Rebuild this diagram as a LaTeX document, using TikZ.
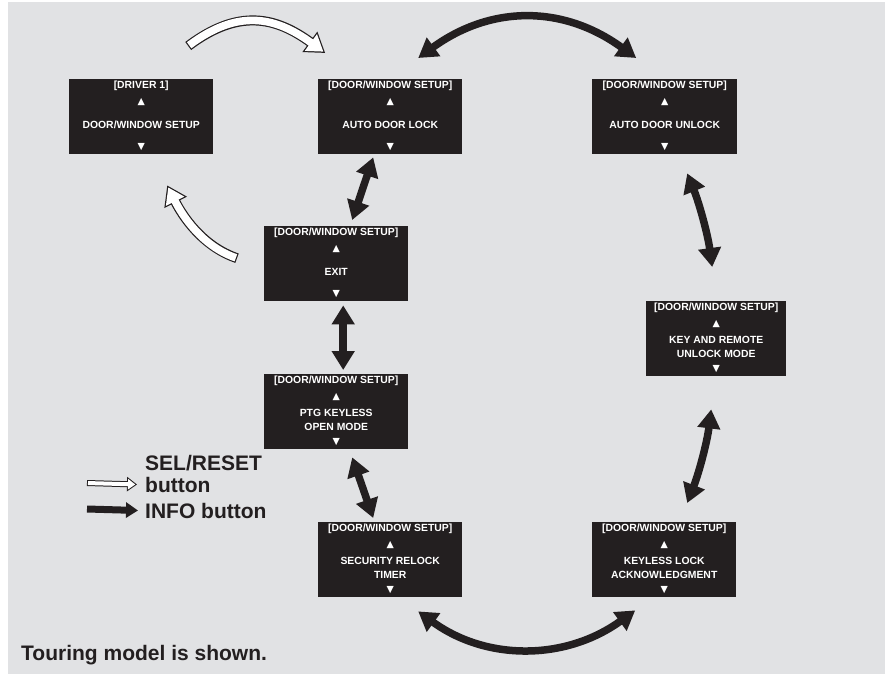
\documentclass[tikz,border=0pt]{standalone}
\usepackage{fontspec}
\setmainfont{Liberation Sans}
\newfontfamily\symfont{DejaVu Sans}
\usetikzlibrary{arrows.meta,calc}
\definecolor{bg}{RGB}{225,226,228}
\definecolor{ink}{RGB}{35,31,32}
\newcommand\screenbox[6]{%
  \node[scr, minimum width=#4pt] (#1) at (#2,#3) {};
  \node[scrtxt] (#1-h) at ($(#1.north)+(0,6.5)$) {#5};
  \node[tri] (#1-u) at ($(#1.north)+(0,23)$) {▲};
  \node[scrtxt] (#1-m) at ($(#1.north)+(0,46)$) {#6};
  \node[tri] (#1-d) at ($(#1.north)+(0,68.5)$) {▼};
}
\begin{document}
\begin{tikzpicture}[x=1pt,y=-1pt,
  scr/.style={fill=ink, draw=none, minimum height=75pt, inner sep=0pt, anchor=north west},
  scrtxt/.style={text=white, font=\bfseries\fontsize{10.4}{14}\selectfont, inner sep=0pt, align=center},
  tri/.style={text=white, font=\symfont\fontsize{9.5}{9.5}\selectfont, inner sep=0pt},
  legtxt/.style={text=ink, font=\bfseries\fontsize{21}{24}\selectfont, inner sep=0pt, anchor=base west},
  blk/.style={draw=ink, line width=7.5pt, {Triangle[length=19pt,width=22pt]}-{Triangle[length=19pt,width=22pt]}},
  wout/.style={draw=ink, line width=10pt, -{Triangle[length=19pt,width=24pt]}},
  win/.style={draw=white, line width=7.6pt, shorten <=1.2pt, shorten >=2.25pt, -{Triangle[length=15.5pt,width=19.6pt]}},
]
\useasboundingbox (0,0) rectangle (885,674);
\fill[white] (0,0) rectangle (885,674);
\fill[bg] (8,2) rectangle (885,674);

\screenbox{drv}{69}{79}{144}{[DRIVER 1]}{DOOR/WINDOW SETUP}
\screenbox{lock}{318}{79}{144}{[DOOR/WINDOW SETUP]}{AUTO DOOR LOCK}
\screenbox{unlock}{592}{79}{145}{[DOOR/WINDOW SETUP]}{AUTO DOOR UNLOCK}
\screenbox{exit}{264}{226}{144}{[DOOR/WINDOW SETUP]}{EXIT}
\screenbox{ptg}{264}{374}{144}{[DOOR/WINDOW SETUP]}{PTG KEYLESS\\OPEN MODE}
\screenbox{sec}{318}{522}{144}{[DOOR/WINDOW SETUP]}{SECURITY RELOCK\\TIMER}
\screenbox{kl}{592}{522}{144}{[DOOR/WINDOW SETUP]}{KEYLESS LOCK\\ACKNOWLEDGMENT}
\screenbox{krm}{646}{301}{140}{[DOOR/WINDOW SETUP]}{KEY AND REMOTE\\UNLOCK MODE}

% black INFO arrows
\draw[blk] ($(lock.north)+(28,-21)$) .. controls +(73,-53) and +(-73,-53) .. ($(unlock.north)+(-28.5,-21)$);
\draw[blk] ($(sec.south)+(28,14)$) .. controls +(69,50) and +(-69,50) .. ($(kl.south)+(-29,13)$);
\draw[blk] ($(lock.south)+(-17,3)$) -- ($(exit.north)+(16,-6)$);
\draw[blk] ($(exit.south)+(7,4)$) -- ($(ptg.north)+(7,-4)$);
\draw[blk] ($(ptg.south)+(16,8)$) -- ($(sec.north)+(-17,-4)$);
\draw[blk] ($(unlock.south)+(22.5,19)$) .. controls +(12.2,30.3) and +(-4.4,-32.3) .. ($(krm.north)+(-4,-34)$);
\draw[blk] ($(kl.north)+(23,-19)$) .. controls +(11.9,-30.7) and +(-4.1,32.7) .. ($(krm.south)+(-5,33)$);

% white SEL/RESET arrows
\draw[wout] ($(drv.north)+(47,-33)$) .. controls +(50,-37.5) and +(-50,-36.5) .. ($(lock.north)+(-65,-26)$);
\draw[win] ($(drv.north)+(47,-33)$) .. controls +(50,-37.5) and +(-50,-36.5) .. ($(lock.north)+(-65,-26)$);
\draw[wout] ($(exit.west)+(-27,-5.5)$) .. controls +(-35,-12) and +(15,30) .. ($(drv.south)+(26,31)$);
\draw[win] ($(exit.west)+(-27,-5.5)$) .. controls +(-35,-12) and +(15,30) .. ($(drv.south)+(26,31)$);

% legend
\node[legtxt] (selreset) at (145,470) {SEL/RESET};
\node[legtxt] (btn) at (145,492) {button};
\node[legtxt] (info) at (145,518) {INFO button};
\coordinate (lw1) at (87,483);
\coordinate (lb1) at (87,509);
\draw[draw=ink, line width=6pt, -{Triangle[length=10pt,width=14pt]}] (lw1) -- ($(btn.west)+(-8,0)$ |- lw1);
\draw[draw=white, line width=4pt, shorten <=1pt, shorten >=1.74pt, -{Triangle[length=7.26pt,width=10.2pt]}] (lw1) -- ($(btn.west)+(-8,0)$ |- lw1);
\draw[draw=ink, line width=7pt, -{Triangle[length=12pt,width=15pt]}] (lb1) -- ($(info.west)+(-7,0)$ |- lb1);

\node[legtxt] (foot) at (21,660) {Touring model is shown.};
\end{tikzpicture}
\end{document}
